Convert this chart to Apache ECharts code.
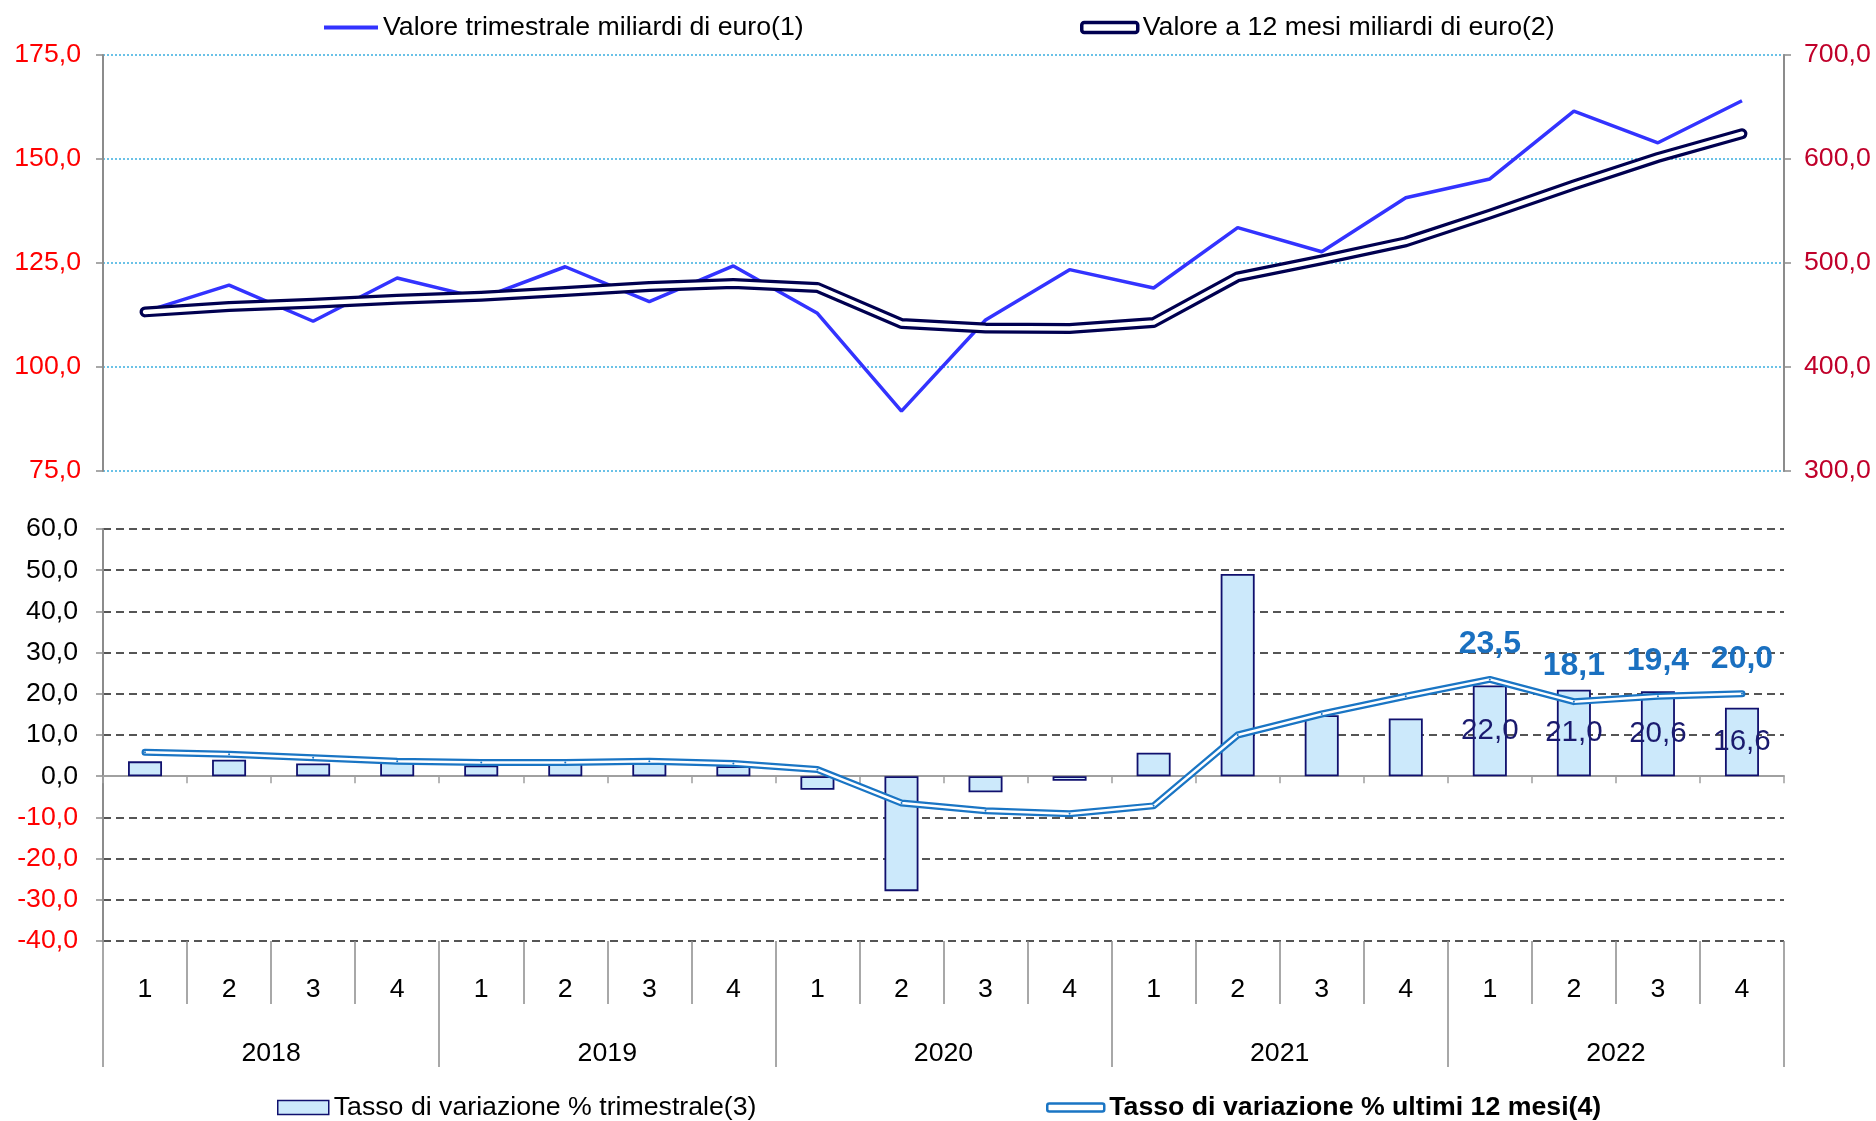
<!DOCTYPE html>
<html>
<head>
<meta charset="utf-8">
<script src="https://cdn.jsdelivr.net/npm/echarts@6/dist/echarts.min.js"></script>
<style>
    html, body { margin: 0; padding: 0; background: #fff; }
    #chart { width: 1876px; height: 1121px; }
</style>
</head>
<body>
<div id="chart"></div>
<script>
// dati
const quarters = ['1', '2', '3', '4', '1', '2', '3', '4', '1', '2', '3', '4', '1', '2', '3', '4', '1', '2', '3', '4'];
const years = ['2018', '2019', '2020', '2021', '2022'];
const valoreTrim = [113.3, 119.7, 111.0, 121.4, 116.5, 124.1, 115.7, 124.3, 112.9, 89.4, 111.3, 123.4, 119.0, 133.5, 127.7, 140.7, 145.2, 161.5, 153.9, 164.0];
const valore12 = [453.0, 458.2, 461.4, 465.2, 468.1, 472.6, 477.4, 480.3, 476.5, 441.8, 437.6, 437.0, 442.8, 486.7, 503.0, 520.4, 547.0, 575.0, 601.5, 624.3];
const tassoTrim = [3.6, 4.0, 3.1, 3.4, 2.6, 3.6, 4.0, 2.4, -3.3, -27.9, -3.9, -1.1, 5.7, 49.1, 14.8, 14.0, 22.0, 21.0, 20.6, 16.6];
const tasso12 = [5.8, 5.3, 4.5, 3.6, 3.3, 3.3, 3.6, 3.1, 1.6, -6.5, -8.4, -9.1, -7.2, 10.0, 15.1, 19.4, 23.5, 18.1, 19.4, 20.0];
// etichette solo sugli ultimi 4 trimestri
const labelFrom = 16;

const names = {
    trim: 'Valore trimestrale miliardi di euro(1)',
    v12: 'Valore a 12 mesi miliardi di euro(2)',
    bar: 'Tasso di variazione % trimestrale(3)',
    t12: 'Tasso di variazione % ultimi 12 mesi(4)'
};

const FONT = '"Liberation Sans", Arial, sans-serif';
const FS = 26.7;
const fmt = v => Number(v).toFixed(1).replace('.', ',');
const grey = '#8c8c8c';

let chart = echarts.init(document.getElementById('chart'), null, { renderer: 'canvas' });

let axisCommon = {
    axisLine: { show: true, lineStyle: { color: grey, width: 2 } },
    axisTick: { show: true, length: 7, lineStyle: { color: grey, width: 1.5 } },
};

// asse categorie "a tabella" sotto il grafico
let tableAxis = (data, tickLen, margin) => ({
    gridIndex: 1, type: 'category', data: data, position: 'bottom',
    axisLine: { show: true, onZero: false, lineStyle: { color: 'rgba(0,0,0,0)' } },
    axisTick: { show: true, length: tickLen, interval: 0, lineStyle: { color: grey, width: 1.5 } },
    axisLabel: { show: true, margin: margin, interval: 0, fontSize: FS, color: '#000', fontFamily: FONT }
});

let legendText = { fontSize: FS, color: '#000', fontFamily: FONT };

let option = {
    animation: false,
    backgroundColor: '#fff',
    textStyle: { fontFamily: FONT },
    grid: [
        { left: 103, right: 92, top: 55, height: 416, containLabel: false, outerBoundsMode: 'none' },
        { left: 103, right: 92, top: 529, height: 412, containLabel: false, outerBoundsMode: 'none' }
    ],
    legend: [
        {
            left: 324, top: 14, padding: 0, selectedMode: false,
            itemWidth: 54, itemHeight: 4, itemGap: 0, itemTextGap: 6,
            textStyle: legendText,
            data: [{ name: names.trim, icon: 'rect', itemStyle: { color: '#3333ff' } }]
        },
        {
            left: 1080, top: 14, padding: 0, selectedMode: false,
            itemWidth: 56, itemHeight: 10, itemGap: 0, itemTextGap: 4,
            textStyle: legendText,
            data: [{ name: names.v12, icon: 'roundRect', itemStyle: { color: '#fff', borderColor: '#000050', borderWidth: 3.5 } }]
        },
        {
            left: 277, top: 1094, padding: 0, selectedMode: false,
            itemWidth: 51, itemHeight: 14, itemGap: 0, itemTextGap: 6,
            textStyle: legendText,
            data: [{ name: names.bar, icon: 'rect', itemStyle: { color: '#cce9fb', borderColor: '#10106e', borderWidth: 1.5 } }]
        },
        {
            left: 1046, top: 1094, padding: 0, selectedMode: false,
            itemWidth: 57, itemHeight: 8, itemGap: 0, itemTextGap: 2,
            textStyle: Object.assign({}, legendText, { fontWeight: 'bold' }),
            data: [{ name: names.t12, icon: 'roundRect', itemStyle: { color: '#fff', borderColor: '#1a75c4', borderWidth: 2.5 } }]
        }
    ],
    xAxis: [
        { gridIndex: 0, type: 'category', data: quarters, show: false },
        // asse sullo zero
        {
            gridIndex: 1, type: 'category', data: quarters, position: 'bottom',
            axisLine: { show: true, onZero: true, lineStyle: { color: '#a0a0a0', width: 2 } },
            axisTick: { show: true, length: 7, interval: 0, lineStyle: { color: '#a0a0a0', width: 1.5 } },
            axisLabel: { show: false }
        },
        tableAxis(quarters, 63, 35),
        tableAxis(years, 126, 99)
    ],
    yAxis: [
        Object.assign({
            gridIndex: 0, type: 'value', position: 'left', min: 75, max: 175, interval: 25,
            splitLine: { lineStyle: { color: '#3aaee0', type: [2, 2], width: 1.5 } },
            axisLabel: { color: '#ff0000', fontSize: FS, margin: 22, formatter: fmt, fontFamily: FONT }
        }, axisCommon),
        Object.assign({
            gridIndex: 0, type: 'value', position: 'right', min: 300, max: 700, interval: 100,
            splitLine: { show: false },
            axisLabel: { color: '#c0002a', fontSize: FS, margin: 20, formatter: fmt, fontFamily: FONT }
        }, axisCommon),
        Object.assign({
            gridIndex: 1, type: 'value', position: 'left', min: -40, max: 60, interval: 10,
            splitLine: { lineStyle: { color: '#555', type: [8, 5], width: 2 } },
            axisLabel: {
                fontSize: FS, margin: 25, formatter: fmt, fontFamily: FONT,
                color: v => Number(v) < 0 ? '#ff0000' : '#000'
            }
        }, axisCommon)
    ],
    series: [
        {
            name: names.trim, type: 'line', xAxisIndex: 0, yAxisIndex: 0,
            data: valoreTrim, symbol: 'none', color: '#3333ff',
            lineStyle: { color: '#3333ff', width: 3.5 }
        },
        // linea doppia: esterna scura + interna bianca
        {
            name: names.v12, type: 'line', xAxisIndex: 0, yAxisIndex: 1,
            data: valore12, symbol: 'none', color: '#000050',
            lineStyle: { color: '#000050', width: 11, cap: 'round', join: 'round' }
        },
        {
            name: 'v12-inner', type: 'line', xAxisIndex: 0, yAxisIndex: 1, silent: true,
            data: valore12, symbol: 'none',
            lineStyle: { color: '#fff', width: 4.5, cap: 'round', join: 'round' }
        },
        {
            name: names.bar, type: 'bar', xAxisIndex: 1, yAxisIndex: 2, barWidth: 34,
            itemStyle: { color: '#cce9fb', borderColor: '#10106e', borderWidth: 1.8 },
            data: tassoTrim.map((v, i) => ({
                value: v,
                label: {
                    show: i >= labelFrom, position: 'inside', formatter: p => fmt(p.value),
                    fontSize: 29.5, color: '#1a1a6e', fontFamily: FONT
                }
            }))
        },
        {
            name: names.t12, type: 'line', xAxisIndex: 1, yAxisIndex: 2,
            symbol: 'circle', symbolSize: 2, color: '#1a75c4',
            lineStyle: { color: '#1a75c4', width: 7, cap: 'round', join: 'round' },
            data: tasso12.map((v, i) => ({
                value: v,
                label: {
                    show: i >= labelFrom, position: 'top', distance: 18, formatter: p => fmt(p.value),
                    fontSize: 32, fontWeight: 'bold', color: '#1a70c0', fontFamily: FONT
                }
            }))
        },
        {
            name: 't12-inner', type: 'line', xAxisIndex: 1, yAxisIndex: 2, silent: true,
            data: tasso12, symbol: 'none',
            lineStyle: { color: '#fff', width: 2.5, cap: 'round', join: 'round' }
        }
    ]
};

chart.setOption(option);
</script>
</body>
</html>
